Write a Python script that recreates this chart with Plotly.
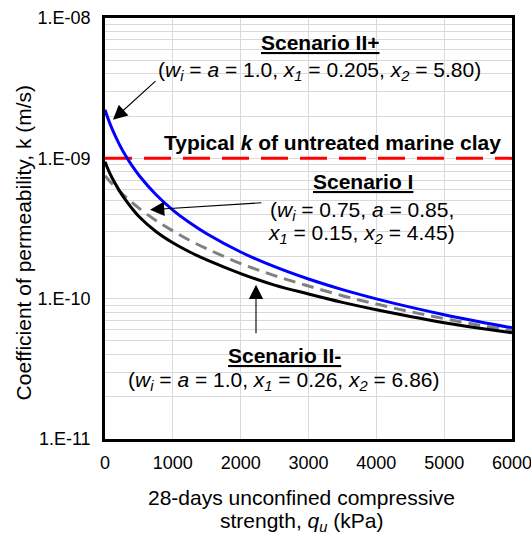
import plotly.graph_objects as go

# 28-day unconfined compressive strength, qu (kPa)
qu = [0, 50, 100, 200, 300, 400, 500, 750, 1000, 1250, 1500, 2000, 2500, 3000, 3500, 4000, 4500, 5000, 5500, 6000]

# Coefficient of permeability k (m/s)
k_scenario_II_plus = [2.22e-9, 1.89e-9, 1.64e-9, 1.29e-9, 1.05e-9, 8.84e-10, 7.58e-10, 5.52e-10, 4.28e-10, 3.47e-10,
                      2.90e-10, 2.15e-10, 1.69e-10, 1.38e-10, 1.16e-10, 9.97e-11, 8.70e-11, 7.69e-11, 6.88e-11, 6.20e-11]
k_scenario_II_minus = [9.46e-10, 8.25e-10, 7.33e-10, 6.01e-10, 5.07e-10, 4.38e-10, 3.85e-10, 3.01e-10, 2.50e-10, 2.15e-10,
                       1.89e-10, 1.51e-10, 1.25e-10, 1.08e-10, 9.41e-11, 8.34e-11, 7.46e-11, 6.74e-11, 6.18e-11, 5.71e-11]
k_scenario_I = [7.52e-10, 7.05e-10, 6.63e-10, 5.92e-10, 5.33e-10, 4.84e-10, 4.42e-10, 3.61e-10, 3.04e-10, 2.60e-10,
                2.27e-10, 1.78e-10, 1.46e-10, 1.23e-10, 1.05e-10, 9.15e-11, 8.08e-11, 7.21e-11, 6.50e-11, 5.90e-11]

typical_k_marine_clay = 1e-9
qu_range = [0, 6000]

y_major = [1e-11, 1e-10, 1e-9, 1e-8]
y_major_text = ["1.E-11", "1.E-10", "1.E-09", "1.E-08"]
y_minor = [m * d for d in [1e-11, 1e-10, 1e-9] for m in range(2, 10)]
x_ticks = [0, 1000, 2000, 3000, 4000, 5000, 6000]

FONT = "Liberation Sans, Arial, sans-serif"

fig = go.Figure()
fig.add_trace(go.Scatter(x=qu_range, y=[typical_k_marine_clay] * 2, mode="lines",
                         line=dict(color="#ff0000", width=3, dash="27px,12px"), showlegend=False))
fig.add_trace(go.Scatter(x=qu, y=k_scenario_I, mode="lines",
                         line=dict(color="#808080", width=3, dash="12px,7px", shape="spline", smoothing=1),
                         showlegend=False))
fig.add_trace(go.Scatter(x=qu, y=k_scenario_II_minus, mode="lines",
                         line=dict(color="#000000", width=3, shape="spline", smoothing=1), showlegend=False))
fig.add_trace(go.Scatter(x=qu, y=k_scenario_II_plus, mode="lines",
                         line=dict(color="#0000ff", width=3, shape="spline", smoothing=1), showlegend=False))

grid = "#d9d9d9"
fig.update_layout(
    width=531, height=534,
    margin=dict(l=105, r=19, t=18, b=95, autoexpand=False),
    paper_bgcolor="white", plot_bgcolor="white",
    font=dict(family=FONT, size=18, color="black"),
    xaxis=dict(range=[0, 6000], tickvals=x_ticks, showgrid=True, gridcolor=grid, gridwidth=1,
               showline=True, linecolor="black", linewidth=2.5, mirror=True, zeroline=False,
               ticks="outside", ticklen=6, tickcolor="rgba(0,0,0,0)", tickfont=dict(size=18),
               ticklabeloverflow="allow", automargin=False),
    yaxis=dict(type="log", range=[-11, -8], tickvals=y_major, ticktext=y_major_text,
               showgrid=True, gridcolor=grid, gridwidth=1,
               minor=dict(tickvals=y_minor, showgrid=True, gridcolor=grid, gridwidth=1, ticks=""),
               showline=True, linecolor="black", linewidth=2.5, mirror=True, zeroline=False,
               ticks="outside", ticklen=8, tickcolor="rgba(0,0,0,0)", tickfont=dict(size=18),
               ticklabeloverflow="allow", automargin=False),
)

def note(text, x, y, size=21, **kw):
    fig.add_annotation(text=text, x=x, y=y, xref="x", yref="y", showarrow=False,
                       font=dict(family=FONT, size=size, color="black"),
                       xanchor="center", yanchor="middle", **kw)

note("<b><u>Scenario II+</u></b>", 3170, -8.175)
note("(<i>w<sub>i</sub></i> = <i>a</i> = 1.0, <i>x<sub>1</sub></i> = 0.205, <i>x<sub>2</sub></i> = 5.80)", 3162, -8.375)
note("<b>Typical <i>k</i> of untreated marine clay</b>", 3354, -8.89)
note("<b><u>Scenario I</u></b>", 3804, -9.165)
note("(<i>w<sub>i</sub></i> = 0.75, <i>a</i> = 0.85,", 3782, -9.375)
note("<i>x<sub>1</sub></i> = 0.15, <i>x<sub>2</sub></i> = 4.45)", 3782, -9.54)
note("<b><u>Scenario II-</u></b>", 2639, -10.405)
note("(<i>w<sub>i</sub></i> = <i>a</i> = 1.0, <i>x<sub>1</sub></i> = 0.26, <i>x<sub>2</sub></i> = 6.86)", 2632, -10.585)

def arrow(x, y, ax, ay):
    fig.add_annotation(text="", x=x, y=y, xref="x", yref="y", ax=ax, ay=ay,
                       showarrow=True, arrowhead=2, arrowsize=2.6, arrowwidth=1.1, arrowcolor="black")

arrow(118, -8.725, 44, -40)
arrow(663, -9.366, 113, -7)
arrow(2226, -9.900, 0, 50)

# axis titles
fig.add_annotation(text="28-days unconfined compressive",
                   x=0.484, y=-0.1401, xref="paper", yref="paper", showarrow=False,
                   xanchor="center", yanchor="middle", font=dict(family=FONT, size=21, color="black"))
fig.add_annotation(text="strength, <i>q<sub>u</sub></i> (kPa)",
                   x=0.484, y=-0.1971, xref="paper", yref="paper", showarrow=False,
                   xanchor="center", yanchor="middle", font=dict(family=FONT, size=21, color="black"))
fig.add_annotation(text="Coefficient of permeability, k (m/s)", textangle=-90,
                   x=-0.2015, y=0.467, xref="paper", yref="paper", showarrow=False,
                   xanchor="center", yanchor="middle", font=dict(family=FONT, size=21, color="black"))

fig.write_html("out.html")
